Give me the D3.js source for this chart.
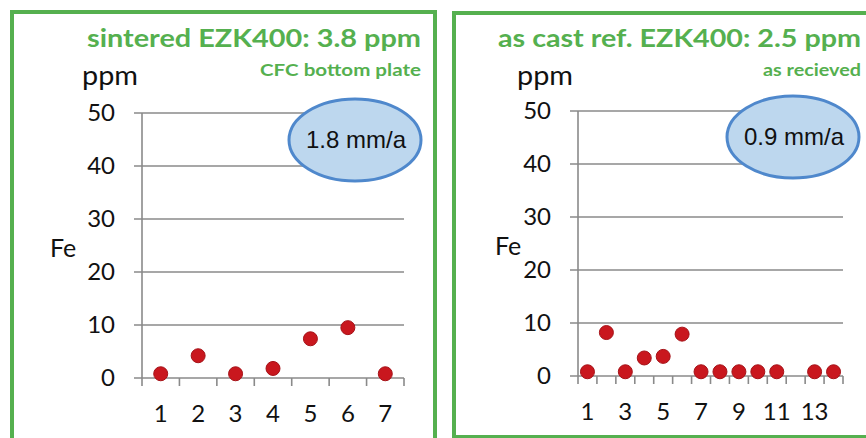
<!DOCTYPE html>
<html>
<head>
<meta charset="utf-8">
<script src="https://cdn.jsdelivr.net/npm/d3@7"></script>
<style>
  body { margin: 0; background: #fff; }
  text { font-family: Lato, "Open Sans", sans-serif; }
  text.oval-label { font-family: "Liberation Sans", Arial, sans-serif; }
</style>
</head>
<body>
<svg id="chart" width="866" height="438"></svg>
<script>
// values
var yTicks = [0, 10, 20, 30, 40, 50]

var sinteredRuns = [1, 2, 3, 4, 5, 6, 7]
var sinteredFe = [0.8, 4.2, 0.8, 1.8, 7.4, 9.5, 0.8]

var castRuns = [1, 2, 3, 4, 5, 6, 7, 8, 9, 10, 11, 12, 13, 14]
var castFe = [0.8, 8.2, 0.8, 3.4, 3.7, 7.9, 0.8, 0.8, 0.8, 0.8, 0.8, null, 0.8, 0.8]
var castLabels = [1, 3, 5, 7, 9, 11, 13]

var titles = ["sintered EZK400: 3.8 ppm", "as cast ref. EZK400: 2.5 ppm"]
var subtitles = ["CFC bottom plate", "as recieved"]
var rates = ["1.8 mm/a", "0.9 mm/a"]

var green = "#55b04f", grid = "#8a8a8a", dotRed = "#c9171e"

var svg = d3.select("#chart")

function draw_panel(p) {
  var g = svg.append("g")

  // green frame
  g.append("rect").attr("x", p.box[0]).attr("y", p.box[1])
    .attr("width", p.box[2]).attr("height", p.box[3])
    .attr("fill", "none").attr("stroke", green).attr("stroke-width", 4)

  // the original slide text runs a bit wider than Lato, so stretch it to fit
  g.append("text").attr("x", p.titleX).attr("y", 47)
    .attr("text-anchor", "end").attr("font-size", 25).attr("font-weight", 700)
    .attr("textLength", p.titleW).attr("lengthAdjust", "spacingAndGlyphs")
    .attr("fill", green).text(p.title)
  g.append("text").attr("x", p.titleX).attr("y", 76)
    .attr("text-anchor", "end").attr("font-size", 17).attr("font-weight", 700)
    .attr("textLength", p.subW).attr("lengthAdjust", "spacingAndGlyphs")
    .attr("fill", green).text(p.subtitle)

  var x = d3.scaleBand().domain(p.runs).range([p.plot[0], p.plot[1]])
  var y = d3.scaleLinear().domain([0, 50]).range([p.plot[2], p.plot[3]])

  // horizontal grid, reaching a little left of the axis
  g.append("g").selectAll("line").data(yTicks).enter().append("line")
    .attr("x1", p.plot[0] - 8).attr("x2", p.plot[1])
    .attr("y1", function(d) { return y(d) }).attr("y2", function(d) { return y(d) })
    .attr("stroke", grid).attr("stroke-width", 1.6)

  g.append("line").attr("x1", p.plot[0]).attr("x2", p.plot[0])
    .attr("y1", y(50)).attr("y2", y(0) + 8)
    .attr("stroke", grid).attr("stroke-width", 1.6)

  // x ticks sit on the band edges
  var edges = p.runs.map(function(d) { return x(d) + x.bandwidth() })
  g.append("g").selectAll("line").data(edges).enter().append("line")
    .attr("x1", function(d) { return d }).attr("x2", function(d) { return d })
    .attr("y1", y(0)).attr("y2", y(0) + 8)
    .attr("stroke", grid).attr("stroke-width", 1.6)

  var yAxis = d3.axisLeft(y).tickValues(yTicks).tickSize(0).tickPadding(27)
  var ya = g.append("g").attr("transform", "translate(" + p.plot[0] + ",0)").call(yAxis)
  ya.select(".domain").remove()
  ya.selectAll("text").attr("font-size", 24).attr("fill", "#111")

  var xAxis = d3.axisBottom(x).tickValues(p.labels).tickSize(0).tickPadding(27)
  var xa = g.append("g").attr("transform", "translate(0," + y(0) + ")").call(xAxis)
  xa.select(".domain").remove()
  xa.selectAll("text").attr("font-size", 24).attr("fill", "#111")

  g.append("text").attr("x", p.ppm[0]).attr("y", p.ppm[1])
    .attr("font-size", 27).attr("fill", "#111")
    .attr("textLength", 56).attr("lengthAdjust", "spacingAndGlyphs").text("ppm")
  g.append("text").attr("x", p.fe[0]).attr("y", p.fe[1])
    .attr("font-size", 25).attr("fill", "#111").text("Fe")

  var pts = p.runs.map(function(d, i) { return { run: d, fe: p.values[i] } })
    .filter(function(d) { return d.fe != null })
  g.append("g").selectAll("circle").data(pts).enter().append("circle")
    .attr("cx", function(d) { return x(d.run) + x.bandwidth() / 2 })
    .attr("cy", function(d) { return y(d.fe) })
    .attr("r", 7).attr("fill", dotRed).attr("stroke", "#a51218").attr("stroke-width", 1)

  g.append("ellipse").attr("cx", p.oval[0]).attr("cy", p.oval[1])
    .attr("rx", 66).attr("ry", 41)
    .attr("fill", "#bdd7ee").attr("stroke", "#4f88cc").attr("stroke-width", 3)
  g.append("text").attr("class", "oval-label")
    .attr("x", p.oval[0] + 1).attr("y", p.oval[1] + 8)
    .attr("text-anchor", "middle").attr("font-size", 24)
    .attr("fill", "#111").text(p.rate)
}

draw_panel({
  box: [12, 12, 423, 440], titleX: 421, titleW: 334, subW: 161,
  title: titles[0], subtitle: subtitles[0],
  runs: sinteredRuns, values: sinteredFe, labels: sinteredRuns,
  plot: [142, 404, 378, 113], ppm: [82, 85], fe: [50, 257], oval: [355, 140], rate: rates[0]
})
draw_panel({
  box: [454, 13, 430, 424], titleX: 861, titleW: 363, subW: 98,
  title: titles[1], subtitle: subtitles[1],
  runs: castRuns, values: castFe, labels: castLabels,
  plot: [578, 843, 376, 111], ppm: [517, 85], fe: [495, 255], oval: [793, 137], rate: rates[1]
})
</script>
</body>
</html>
